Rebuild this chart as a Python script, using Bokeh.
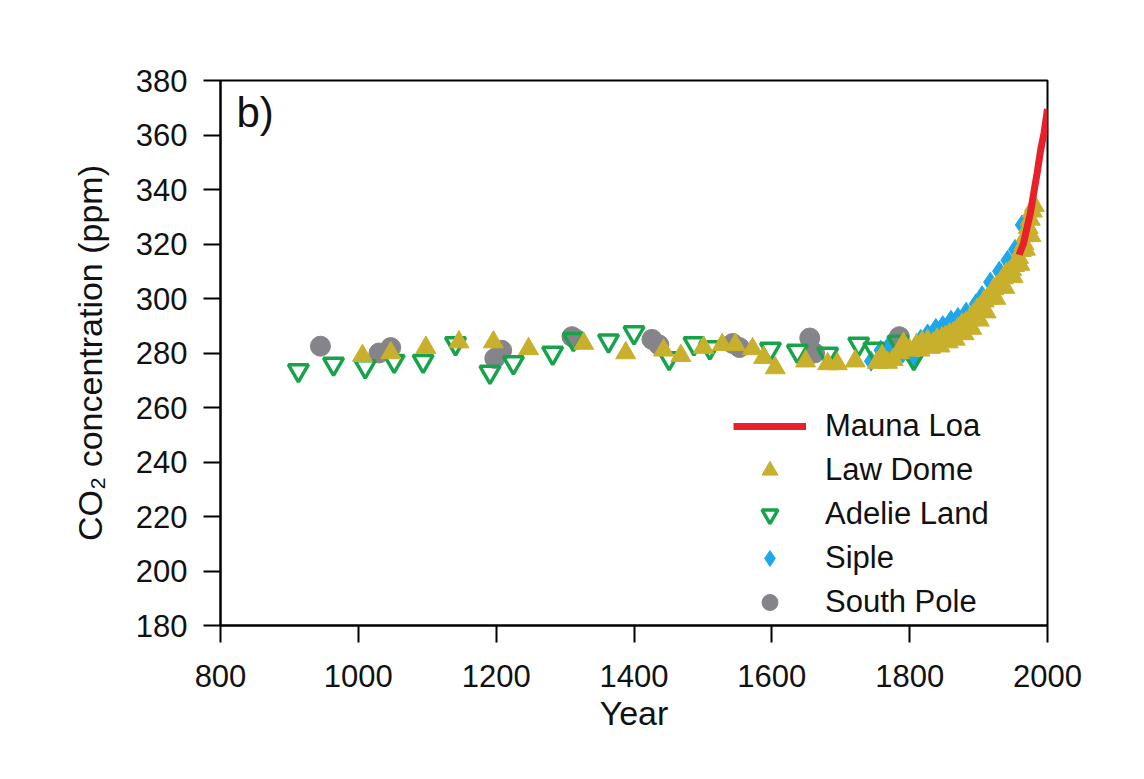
from bokeh.plotting import figure
from bokeh.models import Range1d, Legend, LegendItem, FixedTicker, Label
from bokeh.embed import file_html
from bokeh.resources import INLINE

# ---------------- data ----------------
mauna_year = [1959, 1960, 1965, 1970, 1975, 1980, 1985, 1990, 1995, 2000]
mauna_ppm = [316.0, 316.9, 320.0, 325.7, 331.1, 338.7, 346.1, 354.4, 360.8, 369.5]

law_year = [1006, 1047, 1098, 1146, 1196, 1247, 1327, 1388, 1443, 1468, 1501, 1528,
            1547, 1572, 1588, 1605, 1649, 1681, 1695, 1721, 1753, 1768, 1791, 1800,
            1810, 1818, 1826, 1834, 1840, 1847, 1852, 1858, 1864, 1870, 1876, 1881,
            1887, 1892, 1898, 1903, 1908, 1913, 1918, 1922, 1927, 1932, 1936, 1940,
            1944, 1948, 1952, 1955, 1958, 1962, 1966, 1969, 1972, 1975, 1978, 1981,
            1760, 1776, 1785, 1815, 1830, 1844, 1856, 1866, 1879, 1890, 1901, 1911,
            1925, 1938, 1950, 1960, 1968, 1976]
law_ppm = [279.0, 280.0, 282.0, 284.0, 284.0, 281.5, 283.5, 280.0, 281.0, 279.0, 282.0, 283.0,
           283.0, 281.5, 278.3, 274.5, 277.0, 276.0, 276.0, 277.0, 276.5, 276.5, 283.5, 281.0,
           283.0, 284.0, 284.5, 283.5, 285.0, 285.5, 286.0, 287.0, 287.5, 289.0, 290.5, 291.0,
           292.5, 294.0, 296.0, 297.0, 299.0, 300.0, 301.5, 303.5, 304.5, 306.0, 307.5, 309.0,
           309.5, 310.5, 312.0, 313.0, 315.0, 317.5, 320.0, 323.0, 326.0, 329.0, 332.0, 334.0,
           279.0, 277.5, 280.0, 281.0, 282.0, 282.5, 284.0, 285.0, 287.0, 289.0, 292.0, 295.0,
           300.0, 304.0, 308.0, 312.5, 318.0, 323.0]

adelie_year = [913, 964, 1010, 1052, 1094, 1141, 1191, 1225, 1282, 1312, 1363, 1400,
               1451, 1487, 1510, 1598, 1637, 1681, 1726, 1748, 1783, 1806]
adelie_ppm = [273.6, 276.0, 275.0, 277.0, 277.0, 283.5, 273.0, 276.5, 280.0, 285.0, 284.5, 287.5,
              278.0, 283.5, 282.0, 281.5, 280.7, 279.6, 283.3, 281.5, 284.0, 278.0]

siple_year = [1744, 1758, 1768, 1790, 1804, 1816, 1826, 1838, 1848, 1860, 1870, 1882,
              1896, 1905, 1917, 1930, 1942, 1953, 1963]
siple_ppm = [277.0, 281.0, 282.0, 280.0, 278.0, 285.0, 287.0, 289.0, 290.0, 292.0, 293.0, 295.0,
             298.0, 301.0, 306.0, 310.0, 314.0, 318.0, 327.0]

pole_year = [945, 1030, 1047, 1198, 1208, 1310, 1316, 1426, 1436, 1543, 1553, 1655, 1662, 1785]
pole_ppm = [282.5, 280.0, 282.0, 278.0, 281.0, 286.0, 285.0, 285.0, 283.0, 283.5, 282.0, 285.5, 280.0, 286.0]

x_ticks = [800, 1000, 1200, 1400, 1600, 1800, 2000]
y_ticks = [180, 200, 220, 240, 260, 280, 300, 320, 340, 360, 380]

# ---------------- figure ----------------
W, H = 1136, 771
p = figure(width=W, height=H, output_backend="svg", toolbar_location=None,
           x_range=Range1d(800, 2000), y_range=Range1d(180, 380),
           min_border_left=220, min_border_right=W - 1047,
           min_border_top=80, min_border_bottom=H - 625)

FONT = "Liberation Sans"
p.background_fill_color = "white"
p.border_fill_color = "white"
p.outline_line_color = "black"
p.outline_line_width = 2
p.xgrid.visible = False
p.ygrid.visible = False

for ax in (p.xaxis[0], p.yaxis[0]):
    ax.axis_line_color = "black"
    ax.axis_line_width = 2
    ax.major_tick_line_color = "black"
    ax.major_tick_line_width = 2
    ax.major_tick_in = 0
    ax.major_tick_out = 17
    ax.minor_tick_line_color = None
    ax.major_label_text_font = FONT
    ax.major_label_text_font_size = "31px"
    ax.major_label_text_color = "#111111"
    ax.axis_label_text_font = FONT
    ax.axis_label_text_font_style = "normal"
    ax.axis_label_text_color = "#111111"

p.xaxis[0].ticker = FixedTicker(ticks=x_ticks)
p.yaxis[0].ticker = FixedTicker(ticks=y_ticks)
p.xaxis[0].major_label_standoff = 22
p.yaxis[0].major_label_standoff = 16
p.xaxis[0].axis_label = "Year"
p.xaxis[0].axis_label_text_font_size = "34px"
p.xaxis[0].axis_label_standoff = 4
p.yaxis[0].axis_label = "CO\u2082 concentration (ppm)"
p.yaxis[0].axis_label_text_font_size = "34px"
p.yaxis[0].axis_label_standoff = 24

GOLD = "#c8b02c"
GREEN = "#16a34a"
BLUE = "#1ea8ec"
GRAY = "#84848a"
RED = "#e8202a"

r_pole = p.scatter(pole_year, pole_ppm, marker="circle", size=20,
                   fill_color=GRAY, line_color=GRAY)
r_siple = p.scatter(siple_year, siple_ppm, marker="diamond", size=20,
                    fill_color=BLUE, line_color=BLUE)
r_adelie = p.scatter(adelie_year, adelie_ppm, marker="inverted_triangle", size=20,
                     fill_color=None, line_color=GREEN, line_width=3.5)
r_law = p.scatter(law_year, law_ppm, marker="triangle", size=20,
                  fill_color=GOLD, line_color=GOLD)
r_mauna = p.line(mauna_year, mauna_ppm, line_color=RED, line_width=7)

# legend proxies (small markers)
l_law = p.scatter([-1e4], [0], marker="triangle", size=18, fill_color=GOLD, line_color=GOLD)
l_adelie = p.scatter([-1e4], [0], marker="inverted_triangle", size=17,
                     fill_color=None, line_color=GREEN, line_width=3.5)
l_siple = p.scatter([-1e4], [0], marker="diamond", size=20,
                    fill_color=BLUE, line_color=BLUE)
l_pole = p.scatter([-1e4], [0], marker="circle", size=18, fill_color=GRAY, line_color=GRAY)

legend = Legend(items=[
    LegendItem(label="Mauna Loa", renderers=[r_mauna]),
    LegendItem(label="Law Dome", renderers=[l_law]),
    LegendItem(label="Adelie Land", renderers=[l_adelie]),
    LegendItem(label="Siple", renderers=[l_siple]),
    LegendItem(label="South Pole", renderers=[l_pole]),
], location=(513, 3))
legend.margin = 0
legend.padding = 0
legend.border_line_alpha = 0
legend.background_fill_alpha = 0
legend.glyph_width = 73
legend.glyph_height = 40
legend.label_height = 40
legend.spacing = 4
legend.label_standoff = 19
legend.label_text_font = FONT
legend.label_text_font_size = "31px"
legend.label_text_color = "#111111"
legend.label_text_baseline = "middle"
p.add_layout(legend)

p.add_layout(Label(x=16, y=490, x_units="screen", y_units="screen", text="b)",
                   text_font=FONT, text_font_size="42px", text_color="#111111"))

html = file_html(p, INLINE)
open("out.html", "w").write(html)
